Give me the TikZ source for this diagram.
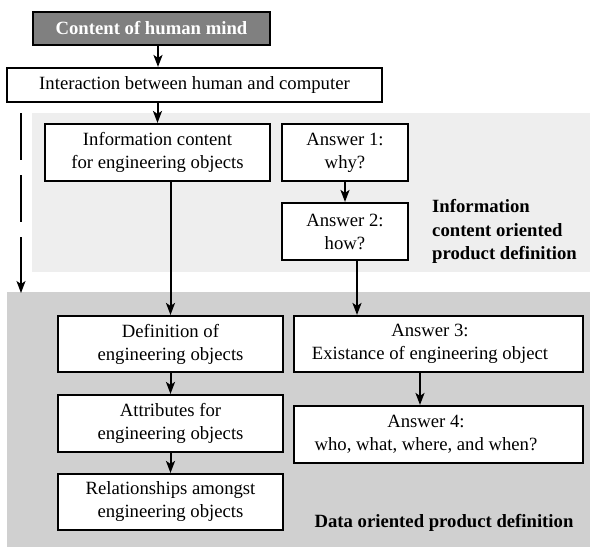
\documentclass[tikz,border=0pt]{standalone}
\usepackage{fontspec}
\setmainfont{Liberation Serif}
\usetikzlibrary{arrows.meta}
\definecolor{lightregion}{RGB}{238,238,238}
\definecolor{darkregion}{RGB}{208,208,208}
\definecolor{topfill}{RGB}{128,128,128}
\begin{document}
\begin{tikzpicture}[x=1pt,y=-1pt,
  font=\fontsize{18.7}{23}\selectfont,
  box/.style={draw=black, line width=2.1pt, fill=white, align=center, inner sep=0pt},
  arr/.style={line width=2pt, -{Stealth[length=12pt,width=9pt,inset=3pt]}},
  dasharr/.style={line width=1.6pt, dash pattern=on 47pt off 15pt, -{Stealth[length=12pt,width=9pt,inset=3pt]}},
  regionlabel/.style={font=\fontsize{18.7}{23.5}\selectfont\bfseries, inner sep=0pt}
]
\useasboundingbox (0,0) rectangle (590,547);
% regions
\fill[lightregion] (32,113) rectangle (590,272);
\fill[darkregion] (7,292) rectangle (590,547);

% nodes
\node[box, fill=topfill, text=white, font=\fontsize{18.7}{23}\selectfont\bfseries, minimum width=237pt, minimum height=33pt] (top) at (151.5,28.5) {Content of human mind};
\node[box, minimum width=375pt, minimum height=34pt] (inter) at (194.5,85) {Interaction between human and computer};
\node[box, minimum width=225pt, minimum height=57pt] (info) at (157.5,152.5) {Information content\\for engineering objects};
\node[box, minimum width=126pt, minimum height=57pt] (a1) at (345,152.5) {Answer 1:\\why?};
\node[box, minimum width=126pt, minimum height=57pt] (a2) at (345,231.5) {Answer 2:\\how?};
\node[box, minimum width=225pt, minimum height=56pt] (def) at (170.5,344) {Definition of\\engineering objects};
\node[box, minimum width=225pt, minimum height=57pt] (attr) at (170.5,423.5) {Attributes for\\engineering objects};
\node[box, minimum width=225pt, minimum height=56pt] (rel) at (170.5,502) {Relationships amongst\\engineering objects};
\node[box, minimum width=289pt, minimum height=56pt] (a3) at (438.5,344) {};
\node[align=center, inner sep=0pt] (a3t) at (430,344) {Answer 3:\\Existance of engineering object};
\node[box, minimum width=289pt, minimum height=57pt] (a4) at (438.5,434.5) {};
\node[align=center, inner sep=0pt] (a4t) at (426,434.5) {Answer 4:\\who, what, where, and when?};

\node[regionlabel, align=left, anchor=west] (infolabel) at (432,231.5) {Information\\content oriented\\product definition};
\node[regionlabel] (datalabel) at (444,523) {Data oriented product definition};

% connectors
\draw[arr] ([xshift=6.5]top.south) -- ([xshift=6.5]top.south |- inter.north);
\draw[arr] (inter.south -| info.north) -- (info.north);
\draw[arr] (a1.south) -- (a2.north);
\draw[arr] ([xshift=12]a2.south) -- ([xshift=12]a2.south |- a3.north);
\draw[arr] (info.south -| def.north) -- (def.north);
\draw[arr] (def.south) -- (attr.north);
\draw[arr] (attr.south) -- (rel.north);
\draw[arr] ([xshift=-18.5]a3.south) -- ([xshift=-18.5]a3.south |- a4.north);

\coordinate (dstart) at (21,113);
\coordinate (dend) at (21,293);
\draw[dasharr] (dstart) -- (dend);
\end{tikzpicture}
\end{document}
